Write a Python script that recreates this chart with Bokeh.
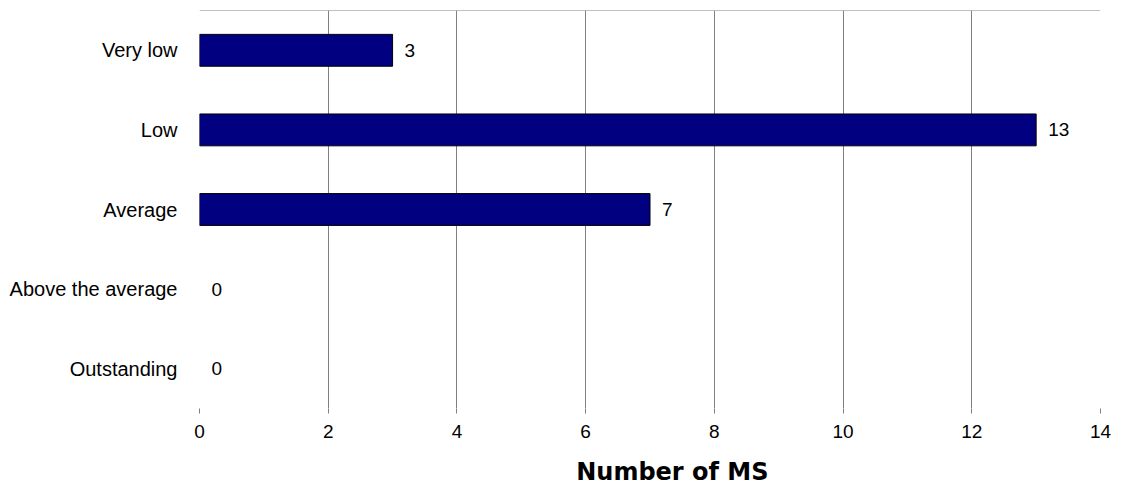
from bokeh.plotting import figure
from bokeh.models import ColumnDataSource, FactorRange, Span, LabelSet, SingleIntervalTicker, Title
from bokeh.core.properties import value
from bokeh.embed import file_html
from bokeh.resources import INLINE

# Ratings and the number of MS in each
categories = ["Very low", "Low", "Average", "Above the average", "Outstanding"]
counts = [3, 13, 7, 0, 0]
x_ticks_step = 2
x_max = 14
x_title = "Number of MS"

src = ColumnDataSource(dict(
    cat=categories,
    n=counts,
    lbl=[str(c) for c in counts],
    edge=["black" if c > 0 else None for c in counts],
))

p = figure(
    width=1123, height=485,
    y_range=FactorRange(*reversed(categories), range_padding=0),
    x_range=(0, x_max),
    output_backend="svg", toolbar_location=None,
    min_border_left=199, min_border_right=23, min_border_top=10, min_border_bottom=0,
)
p.outline_line_color = None
p.background_fill_color = "white"
p.border_fill_color = "white"

p.hbar(y="cat", right="n", left=0, height=0.4, source=src,
       fill_color="#000080", line_color="edge", line_width=1)

labels = LabelSet(x="n", y="cat", text="lbl", source=src, x_offset=12,
                  text_baseline="middle", text_font=value("Liberation Sans"),
                  text_font_size="19px", text_color="black")
p.add_layout(labels)

# top border line
p.add_layout(Span(location=5, dimension="width", line_color="#808080", line_width=1))

# x axis
p.xaxis.ticker = SingleIntervalTicker(interval=x_ticks_step)
p.xaxis.axis_line_color = None
p.xaxis.major_tick_line_color = "#808080"
p.xaxis.major_tick_out = 5
p.xaxis.major_tick_in = 0
p.xaxis.minor_tick_line_color = None
p.xaxis.major_label_text_font = "Liberation Sans"
p.xaxis.major_label_text_font_size = "19px"
p.xaxis.major_label_text_color = "black"
p.xaxis.major_label_standoff = 11
# blank spacer between tick labels and the title
p.xaxis.axis_label = " "
p.xaxis.axis_label_text_font_size = "1px"
p.xaxis.axis_label_standoff = 11

# x axis title, placed a little right of the plot centre
p.add_layout(Title(text=x_title, align="right", offset=332, standoff=0,
                   text_font="DejaVu Sans", text_font_style="bold",
                   text_font_size="24px", text_color="black"), "below")

# y axis
p.yaxis.axis_line_color = None
p.yaxis.major_tick_line_color = None
p.yaxis.minor_tick_line_color = None
p.yaxis.major_label_text_font = "Liberation Sans"
p.yaxis.major_label_text_font_size = "20px"
p.yaxis.major_label_text_color = "black"
p.yaxis.major_label_standoff = 16

p.xgrid.grid_line_color = "#808080"
p.xgrid.grid_line_width = 1
p.ygrid.grid_line_color = None

open("out.html", "w").write(file_html(p, INLINE))
